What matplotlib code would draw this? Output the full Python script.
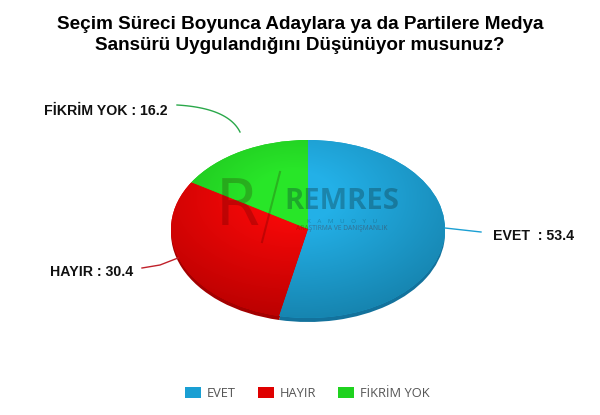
import matplotlib
matplotlib.use("Agg")
import matplotlib.pyplot as plt
from matplotlib.patches import Rectangle
import numpy as np

categories = ["EVET", "HAYIR", "FİKRİM YOK"]
values = [53.4, 30.4, 16.2]
colors = ["#1a9fd3", "#df0000", "#1fd21f"]
side_colors = ["#13729c", "#a30000", "#17a017"]
title = "Seçim Süreci Boyunca Adaylara ya da Partilere Medya\nSansürü Uygulandığını Düşünüyor musunuz?"

W, H = 600, 415
fig = plt.figure(figsize=(W / 100, H / 100), dpi=100)
fig.patch.set_facecolor("white")

def fbox(x0, y0, x1, y1):
    return [x0 / W, 1 - y1 / H, (x1 - x0) / W, (y1 - y0) / H]

# pie depth (side)
depth = 4
axs = fig.add_axes(fbox(171, 140 + depth, 445, 318 + depth))
axs.pie(values, colors=side_colors, startangle=90, counterclock=False,
        wedgeprops=dict(linewidth=0))
axs.set_aspect("auto"); axs.set_xlim(-1, 1); axs.set_ylim(-1, 1); axs.axis("off")

# pie top face
axp = fig.add_axes(fbox(171, 140, 445, 318))
wedges, _ = axp.pie(values, colors=colors, startangle=90, counterclock=False,
                    wedgeprops=dict(linewidth=0))
axp.set_aspect("auto"); axp.set_xlim(-1, 1); axp.set_ylim(-1, 1); axp.axis("off")

# shading: lighter near the top-centre, darker towards the rim
yy, xx = np.mgrid[-1:1:240j, -1:1:240j]   # yy increases downward (origin upper)
r = np.sqrt((xx + 0.1) ** 2 + (yy + 0.35) ** 2)
t = np.clip((r - 0.3) / 1.2, 0, 1)[..., None]
for w, c in zip(wedges, colors):
    rgb = np.array(matplotlib.colors.to_rgb(c))
    light = np.clip(rgb * 1.06 + 0.03, 0, 1)
    dark = rgb * 0.80
    img = np.ones((240, 240, 4))
    img[..., :3] = light * (1 - t) + dark * t
    im = axp.imshow(img, extent=(-1, 1, -1, 1), origin="upper", zorder=w.get_zorder() + 0.1,
                    aspect="auto")
    im.set_clip_path(w)
axp.set_xlim(-1, 1); axp.set_ylim(-1, 1)

# overlay axes in pixel coords
ax = fig.add_axes([0, 0, 1, 1], zorder=5)
ax.set_xlim(0, W); ax.set_ylim(H, 0); ax.axis("off")

# watermark
wm = "#0c2f36"
ax.text(342, 209, "REMRES", fontsize=21, fontweight="bold", color=wm, alpha=0.33,
        ha="center", va="baseline", family="Open Sans")
ax.text(342, 221.5, "K    A    M    U    O    Y    U", fontsize=4.5, color=wm, alpha=0.3,
        ha="center", va="center", family="Open Sans")
ax.text(342, 228.5, "ARAŞTIRMA VE DANIŞMANLIK", fontsize=4.8, color="#5a0a0a", alpha=0.35,
        ha="center", va="center", family="Open Sans")
ax.text(238, 207, "R", fontsize=46, color="#300000", alpha=0.22,
        ha="center", va="center", family="DejaVu Sans")
ax.plot([262, 280], [242, 172], color="#300000", alpha=0.22, lw=1.5)

# title
ax.text(300, 35, title, fontsize=13.6, fontweight="bold", ha="center", va="center",
        family="Liberation Sans", color="#000000", linespacing=1.3)

# labels and leader lines
lab_font = dict(fontsize=10.2, fontweight="bold", family="Liberation Sans", color="#111111")
ax.text(493, 236, f"{categories[0]}  : {values[0]}", ha="left", va="center", **lab_font)
ax.plot([445, 481], [228, 232], color=colors[0], lw=1)
ax.text(133, 272, f"{categories[1]} : {values[1]}", ha="right", va="center", **lab_font)
ax.plot([142, 160, 178], [268, 265, 258], color="#c0202a", lw=1)
ax.text(168, 111, f"{categories[2]} : {values[2]}", ha="right", va="center", **lab_font)
tt = np.linspace(0, 1, 30)
p0, p1, p2 = np.array([177, 105]), np.array([228, 108]), np.array([240, 132])
bz = ((1 - tt) ** 2)[:, None] * p0 + (2 * (1 - tt) * tt)[:, None] * p1 + (tt ** 2)[:, None] * p2
ax.plot(bz[:, 0], bz[:, 1], color="#2aa84a", lw=1)

# legend
leg_x = [185, 258, 338]
for x, c, name in zip(leg_x, colors, categories):
    ax.add_patch(Rectangle((x, 387), 16, 11, facecolor=c, edgecolor="none"))
    ax.text(x + 22, 393, name, ha="left", va="center", fontsize=9.3, color="#555555",
            family="Open Sans")

fig.savefig("out.png", dpi=100, facecolor="white")
